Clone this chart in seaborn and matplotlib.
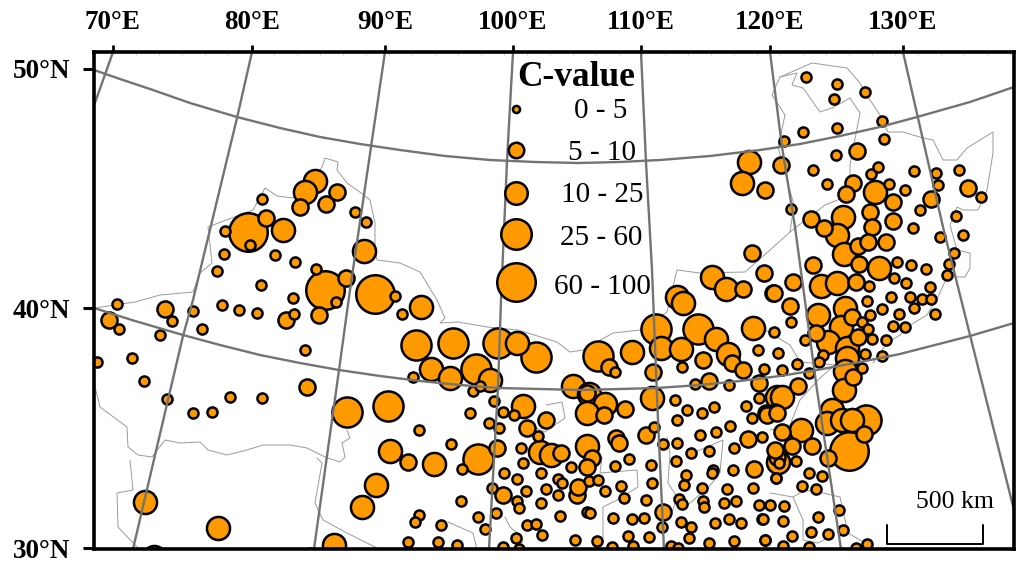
import matplotlib
matplotlib.use("Agg")
import matplotlib.pyplot as plt
import seaborn as sns

# ---- values, in map-sheet units ----
pts_tiny = [(262,199),(355,212),(366,222),(225,231),(250,245),(224,254),(275,255),(295,262),(217,271),(316,269),
 (261,285),(293,298),(336,302),(395,296),(117,304),(172,321),(119,329),(193,311),(222,305),(239,310),(257,313),
 (294,314),(202,329),(160,335),(305,350),(132,358),(97,362),(144,381),(167,399),(230,397),(262,398),(193,413),(212,412),
 (310,553),(402,314),(413,377),(473,391),(480,386),(494,401),(470,413),(503,412),(514,415),(489,423),(419,430),(499,428),
 (451,444),(538,436),(521,448),(523,463),(504,473),(462,469),(517,479),(541,473),(571,467),(558,479),(562,483),(492,488),
 (526,491),(546,489),(558,495),(517,501),(461,501),(519,508),(541,503),(496,513),(478,517),(419,515),(415,522),(441,525),
 (485,529),(560,516),(527,525),(536,524),(587,512),(542,535),(516,538),(575,540),(408,542),(438,542),(457,545),(503,547),(519,549),
 (615,372),(774,332),(758,350),(778,353),(682,367),(764,369),(695,384),(729,385),(759,398),(675,400),(687,410),(702,413),
 (714,407),(746,406),(677,420),(752,418),(654,427),(700,435),(716,432),(730,426),(762,437),(663,444),(677,443),(691,453),
 (709,451),(734,448),(629,459),(615,466),(651,465),(676,461),(713,470),(712,473),(733,470),(686,475),(684,485),(652,483),
 (589,481),(598,480),(605,491),(621,486),(624,498),(646,500),(702,488),(727,489),(753,488),(776,478),(679,499),(682,504),
 (703,501),(704,507),(724,503),(736,501),(759,505),(770,505),(590,513),(613,518),(632,519),(644,518),(681,522),(691,527),
 (662,527),(715,523),(729,519),(741,523),(762,519),(628,536),(649,537),(689,538),(597,541),(709,543),(734,541),(765,540),
 (612,547),(633,546),(671,546),(678,548),(806,77),(837,84),(834,99),(865,92),(882,121),(884,139),(837,128),(803,132),
 (784,141),(836,155),(813,170),(871,174),(878,167),(827,184),(889,184),(905,190),(914,171),(936,173),(938,185),(959,170),
 (981,197),(920,210),(956,216),(791,209),(913,228),(940,237),(963,235),(954,253),(949,264),(947,275),(897,262),(911,265),
 (926,269),(894,278),(906,283),(869,286),(930,287),(891,297),(910,297),(922,299),(931,299),(867,301),(882,309),(914,308),
 (870,315),(899,314),(935,314),(862,322),(791,322),(893,326),(905,327),(868,329),(805,340),(872,339),(886,340),(823,355),
 (865,354),(882,356),(819,362),(797,364),(862,368),(782,370),(809,373),(796,461),(809,473),(822,476),(776,478),(802,486),
 (816,489),(839,510),(818,517),(784,506),(763,519),(783,521),(811,532),(828,534),(843,530),(792,536),(765,540),(783,546),
 (809,547),(856,548),(867,544),(779,463)]
pts_small = [(300,207),(326,204),(337,192),(266,218),(346,278),(319,315),(165,309),(109,320),(286,320),(307,387),(587,393),
 (546,420),(527,428),(408,462),(497,448),(561,453),(503,495),(577,495),(578,487),(592,458),(743,289),(773,293),(764,273),
 (732,363),(743,370),(609,367),(703,360),(653,372),(709,381),(759,383),(625,409),(604,415),(766,413),(775,412),(616,438),
 (619,443),(646,435),(587,467),(663,512),(748,439),(754,469),(777,457),(857,151),(781,165),(765,190),(853,183),(846,194),
 (893,202),(870,212),(893,221),(872,227),(811,219),(824,228),(931,199),(968,188),(858,246),(868,242),(886,242),(859,264),
 (813,265),(856,282),(793,282),(774,293),(790,306),(852,317),(816,333),(858,337),(853,377),(798,386),(767,415),(777,413),
 (782,432),(792,446),(812,446),(775,450),(864,434),(828,458),(752,253)]
pts_medium = [(315,181),(305,192),(283,230),(364,251),(390,451),(376,485),(362,507),(145,502),(218,528),(334,545),(154,557),
 (421,307),(517,343),(431,369),(450,378),(490,380),(573,386),(523,406),(434,464),(540,452),(551,455),(677,297),(683,303),
 (712,277),(726,289),(753,328),(716,339),(661,348),(681,349),(728,354),(632,352),(652,398),(589,394),(605,404),(587,413),
 (777,397),(587,446),(875,192),(843,217),(837,235),(844,254),(879,268),(821,286),(837,283),(845,308),(818,315),(841,327),
 (828,342),(847,348),(847,358),(845,371),(844,390),(832,410),(827,423),(842,420),(852,420),(801,430),(782,397),(778,462),
 (749,162),(742,183)]
pts_large = [(347,412),(388,406),(416,345),(453,343),(498,343),(536,357),(476,369),(478,459),(598,356),(656,329),(698,329),(866,420)]
pts_huge = [(248,232),(325,290),(375,294),(849,451)]

legend_labels = ["0 - 5", "5 - 10", "10 - 25", "25 - 60", "60 - 100"]
legend_y = [109, 150, 193, 234, 282]
legend_text_y = [111, 153, 195, 238, 287]
legend_text_x = [601, 602, 602, 601, 602]
legend_r = [4.8, 9, 12.5, 16.5, 20.5]
class_r = [6.3, 9.3, 12.8, 16.3, 20.5]

meridians = {
 "70E": [(113,52),(96,100),(90,115)],
 "80E": [(252,52),(237,118),(193,300),(183,336),(133,549)],
 "90E": [(385,52),(371,147),(350,290),(339,370),(314,549)],
 "100E": [(513,52),(507,161),(501,300),(498,387),(489,549)],
 "110E": [(641,52),(646,162),(652,270),(658,420),(664,549)],
 "120E": [(770,52),(782,147),(795,227),(817,390),(841,549)],
 "130E": [(903,52),(918,118),(943,227),(970,335),(1014,510)],
}
parallels = {
 "50N": [(94,70),(120,79),(150,89),(190,103),(237,117),(280,128),(320,137),(360,144),(400,150),(445,156),(490,160),
         (535,162),(578,163),(620,162),(660,160),(710,156),(760,150),(800,144),(840,136),(880,127),(917,117),(970,102),(1014,87)],
 "40N": [(94,308),(135,321),(183,335),(220,345),(260,355),(300,363),(339,370),(380,376),(420,381),(460,385),(498,388),
         (540,389),(578,390),(620,389),(657,388),(700,385),(740,381),(780,376),(817,370),(860,362),(900,354),(935,345),(970,336),(1014,323)],
}
borders = [
 [(95,308),(135,302),(160,295),(193,292),(200,273),(212,263),(208,227),(213,225),(253,210),(265,188),(277,196),(293,198),
  (305,190),(322,167),(325,158),(338,162),(337,170),(347,183),(364,195),(370,200),(375,223),(375,250),(377,260),(400,263),
  (420,272),(437,300),(445,318),(440,323),(458,322),(487,327),(518,330),(557,342),(570,352),(583,350),(613,333),(640,330),
  (667,312),(677,270),(700,273),(745,272),(770,250),(790,232),(794,205),(778,147),(785,115),(772,95),(780,77),
  (812,63),(847,68),(860,83),(868,97),(880,115),(888,132),(903,132),(923,138),(933,140),(943,160),(957,160),(967,148),
  (993,132),(993,153),(987,190),(978,210),(963,210),(957,207),(950,225),(957,250),(970,253),(970,268),(965,277),(947,277),
  (938,297),(927,315),(907,327),(900,335),(887,343),(873,363)],
 [(790,232),(825,205),(850,195),(850,165),(860,113),(850,98),(832,108),(820,112),(803,88),(792,85),(797,73),(780,77)],
 [(95,387),(100,407),(127,427),(128,447),(138,455),(152,457),(165,440),(180,443),(200,442),(208,450),(227,455),(247,450),
  (263,445),(290,445),(307,448),(325,457),(340,462),(345,457),(342,443),(350,438),(347,430)],
 [(130,460),(133,490),(117,493),(118,527),(137,547)],
 [(317,458),(322,463),(315,503),(323,520),(347,533),(377,548)],
 [(602,457),(600,473),(637,470),(638,487),(617,500),(603,507),(603,543)],
 [(667,437),(670,453),(668,483),(677,497),(673,510),(660,520)],
 [(693,453),(723,440),(720,473),(708,488),(697,497),(682,510)],
 [(770,493),(793,497),(805,490),(823,493),(840,497),(848,533),(860,540),(867,545)],
 [(793,497),(803,520),(803,540),(818,543),(830,537)],
 [(505,517),(510,527),(522,537),(522,549)],
 [(448,522),(473,533),(477,549)],
 [(546,405),(562,402),(565,418),(545,432),(530,425)],
 [(765,330),(790,345),(800,362),(835,365),(820,378),(800,400),(790,425),(770,430)],
]
lon_ticks = [113, 252, 385, 513, 641, 770, 903]
lon_labels = ["70°E", "80°E", "90°E", "100°E", "110°E", "120°E", "130°E"]
lat_ticks = [69, 308, 548]
lat_labels = ["50°N", "40°N", "30°N"]
scale_x = [887, 887, 983, 983]
scale_y = [525, 544, 544, 525]

sns.set_theme(style="white")
plt.rcParams["font.family"] = ["Liberation Serif", "DejaVu Serif"]

fig = plt.figure(figsize=(10.24, 5.67), dpi=100)
L, R, T, B = 94, 1014, 52, 549
ax = fig.add_axes([L/1024, 1-B/567, (R-L)/1024, (B-T)/567])

for line in borders:
    ax.plot([p[0] for p in line], [p[1] for p in line], color="#9a9a9a", lw=0.7, zorder=1)

orange = "#FF9900"
edge_pt = 1.8
def marker_s(r):
    return (2*(r-1.25)*0.72)**2

groups = [pts_huge, pts_large, pts_medium, pts_small, pts_tiny]
for pts, r in zip(groups, class_r[::-1]):
    sns.scatterplot(x=[p[0] for p in pts], y=[p[1] for p in pts], s=marker_s(r), color=orange,
                    edgecolor="black", linewidth=edge_pt, ax=ax, zorder=3, legend=False)

for line in list(meridians.values()) + list(parallels.values()):
    ax.plot([p[0] for p in line], [p[1] for p in line], color="#737373", lw=1.7, zorder=4,
            solid_joinstyle="round")

for y, r in zip(legend_y, legend_r):
    sns.scatterplot(x=[516], y=[y], s=marker_s(r), color=orange, edgecolor="black",
                    linewidth=edge_pt, ax=ax, zorder=5, legend=False)
for x, y, t in zip(legend_text_x, legend_text_y, legend_labels):
    ax.text(x, y, t, ha="center", va="center", fontsize=21, color="black", zorder=6)
ax.text(576, 78, "C-value", ha="center", va="center", fontsize=25.5, fontweight="bold", color="black", zorder=6)

ax.plot(scale_x, scale_y, color="black", lw=1.4, zorder=5)
ax.text(955, 502, "500 km", ha="center", va="center", fontsize=18.5, color="black", zorder=6)

ax.set_xlim(L, R)
ax.set_ylim(B, T)
ax.xaxis.tick_top()
ax.set_xticks(lon_ticks, lon_labels, fontsize=19.5, fontweight="bold")
ax.set_yticks(lat_ticks, lat_labels, fontsize=19.5, fontweight="bold")
ax.tick_params(axis="x", length=5, width=2, color="black", labelcolor="black", pad=7, top=True, bottom=False)
ax.tick_params(axis="y", length=8, width=2.2, color="black", labelcolor="black", pad=9, left=True)
ax.set_xticks(list(range(136, 1014, 23)), minor=True)
ax.set_yticks(list(range(92, 548, 40)), minor=True)
ax.tick_params(axis="both", which="minor", direction="in", length=2, width=0.5, color="#bbbbbb")
for s in ax.spines.values():
    s.set_visible(True)
    s.set_color("black")
    s.set_linewidth(2.6)
    s.set_zorder(7)
ax.set_facecolor("white")
fig.savefig("out.png", dpi=100, facecolor="white")
